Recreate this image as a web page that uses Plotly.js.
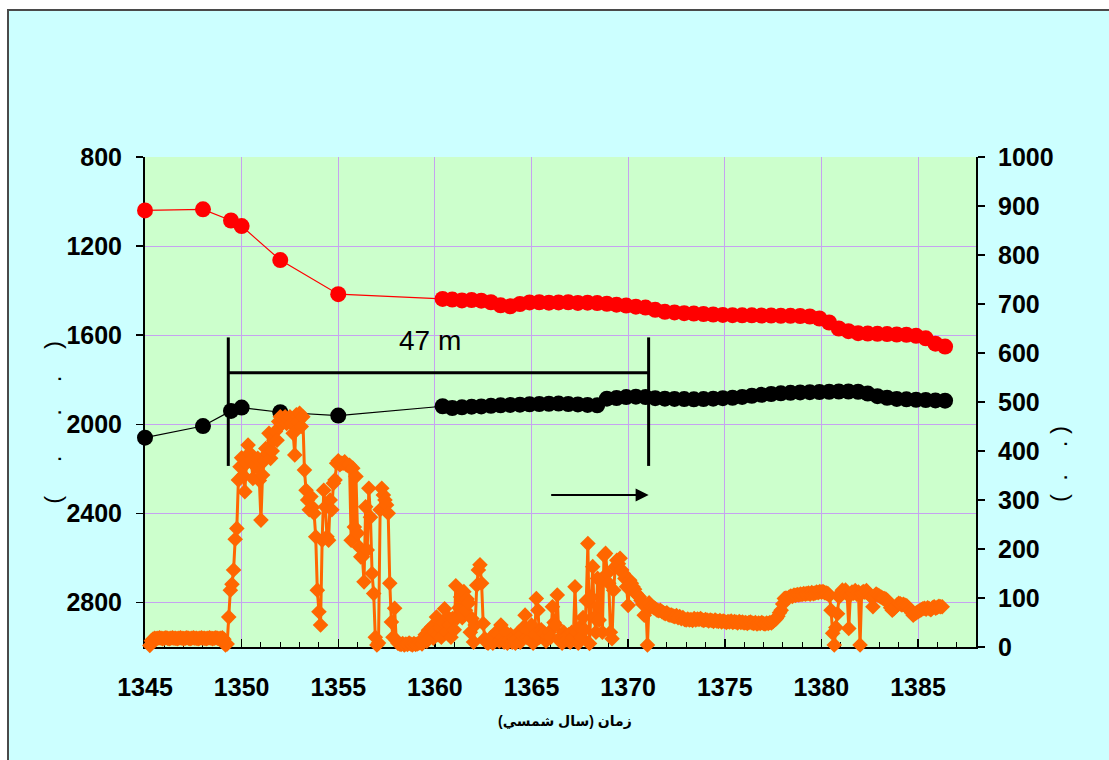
<!DOCTYPE html>
<html>
<head>
<meta charset="utf-8">
<script src="https://cdn.plot.ly/plotly-3.0.1.min.js"></script>
<style>
  html, body { margin: 0; padding: 0; background: #ffffff; }
  #frame {
    position: absolute; left: 7px; top: 9px;
    width: 1100px; height: 749px;
    border-left: 2px solid #4a4a4a; border-top: 2px solid #4a4a4a;
  }
  #chart { width: 1100px; height: 749px; }
</style>
</head>
<body>
<div id="frame"><div id="chart"></div></div>
<script>
// Observation-well years (solar hijri); early sparse readings, then half-yearly readings
const wellYears = [1345, 1348, 1349.45, 1350, 1352, 1355,
  1360.4, 1360.9, 1361.4, 1361.9, 1362.4, 1362.9, 1363.4, 1363.9, 1364.4, 1364.9,
  1365.4, 1365.9, 1366.4, 1366.9, 1367.4, 1367.9, 1368.4, 1368.9, 1369.4, 1369.9,
  1370.4, 1370.9, 1371.4, 1371.9, 1372.4, 1372.9, 1373.4, 1373.9, 1374.4, 1374.9,
  1375.4, 1375.9, 1376.4, 1376.9, 1377.4, 1377.9, 1378.4, 1378.9, 1379.4, 1379.9,
  1380.4, 1380.9, 1381.4, 1381.9, 1382.4, 1382.9, 1383.4, 1383.9, 1384.4, 1384.9,
  1385.4, 1385.9, 1386.4];

// Upper series (left axis, reversed)
const redLevel = [1040, 1035, 1085, 1110, 1263, 1416,
  1437, 1440, 1444, 1442, 1445, 1452, 1466, 1470, 1460, 1453,
  1452, 1454, 1453, 1452, 1455, 1454, 1456, 1459, 1463, 1467,
  1472, 1476, 1486, 1495, 1498, 1501, 1503, 1505, 1507, 1509,
  1510, 1511, 1511, 1512, 1512, 1513, 1513, 1514, 1516, 1525,
  1543, 1570, 1582, 1591, 1593, 1594, 1595, 1597, 1598, 1603,
  1614, 1638, 1651];

// Lower series (left axis, reversed)
const blackLevel = [2060, 2008, 1940, 1925, 1946, 1961,
  1919, 1927, 1924, 1921, 1920, 1917, 1915, 1913, 1912, 1910,
  1909, 1908, 1907, 1909, 1911, 1913, 1915, 1885, 1882, 1878,
  1876, 1878, 1883, 1885, 1886, 1887, 1888, 1887, 1885, 1883,
  1881, 1877, 1872, 1868, 1864, 1861, 1859, 1857, 1856, 1855,
  1854, 1853, 1853, 1854, 1862, 1874, 1881, 1886, 1888, 1890,
  1891, 1893, 1894];

// Monthly series on the right axis, first reading at 1345.25
const flowStart = 1345.25;
const flowMonthly = [
  3, 13, 16, 18, 17, 18, 19, 18, 17, 18, 19, 18,
  17, 18, 19, 18, 18, 17, 18, 19, 18, 17, 18, 19,
  18, 17, 18, 19, 18, 18, 17, 18, 19, 18, 18, 17,
  18, 19, 18, 17, 18, 19, 18, 17, 18, 19, 16, 4,
  6, 61, 116, 128, 157, 220, 242, 341, 368, 386, 350, 317,
  375, 412, 396, 380, 344, 371, 368, 385, 340, 259, 351, 380,
  405, 395, 436, 385, 400, 422, 440, 422, 460, 470, 455, 465,
  470, 456, 465, 470, 456, 436, 392, 474, 460, 477, 450, 470,
  361, 320, 300, 280, 307, 285, 273, 225, 116, 72, 45, 218,
  320, 286, 225, 218, 300, 280, 334, 341, 375, 380, 372, 375,
  375, 378, 372, 370, 371, 218, 365, 245, 348, 232, 204, 184,
  184, 133, 286, 198, 324, 265, 150, 109, 20, 4, 8, 280,
  324, 310, 300, 290, 273, 130, 51, 20, 79, 14, 8, 6,
  5, 7, 4, 6, 5, 8, 6, 4, 7, 5, 6, 8,
  10, 6, 15, 25, 12, 34, 20, 41, 18, 30, 61, 25,
  40, 20, 50, 78, 30, 61, 45, 20, 58, 35, 125, 60,
  80, 102, 60, 113, 75, 98, 90, 30, 58, 10, 45, 126,
  157, 168, 130, 48, 17, 10, 8, 12, 20, 8, 15, 30,
  25, 12, 45, 20, 10, 30, 8, 15, 25, 10, 20, 8,
  18, 30, 10, 25, 40, 65, 20, 35, 15, 45, 8, 25,
  99, 75, 20, 35, 30, 28, 12, 22, 30, 20, 82, 50,
  45, 106, 15, 20, 8, 30, 20, 15, 25, 10, 30, 20,
  123, 30, 8, 40, 20, 60, 35, 95, 211, 7, 102, 164,
  60, 30, 140, 55, 136, 30, 187, 191, 150, 130, 30, 17,
  116, 164, 177, 170, 181, 157, 150, 140, 123, 85, 136, 130,
  123, 118, 109, 105, 102, 95, 88, 65, 85, 4, 90, 82,
  82, 80, 78, 75, 74, 75, 72, 70, 68, 70, 66, 65,
  65, 63, 62, 64, 60, 62, 58, 60, 56, 55, 57, 55,
  56, 54, 58, 55, 57, 56, 58, 55, 54, 56, 55, 53,
  55, 54, 52, 55, 53, 52, 54, 51, 53, 52, 50, 52,
  51, 53, 50, 52, 51, 49, 52, 50, 51, 49, 50, 48,
  50, 51, 49, 48, 50, 47, 49, 48, 50, 48, 47, 49,
  48, 50, 49, 52, 55, 58, 63, 70, 75, 88, 99, 100,
  99, 102, 104, 103, 106, 105, 107, 106, 108, 107, 109, 108,
  109, 110, 108, 111, 109, 110, 112, 111, 113, 112, 113, 111,
  110, 109, 105, 75, 28, 4, 40, 68, 102, 110, 116, 112,
  116, 108, 38, 106, 112, 110, 115, 108, 112, 4, 110, 113,
  112, 115, 110, 106, 102, 82, 104, 108, 106, 104, 102, 100,
  99, 98, 95, 88, 80, 75, 78, 82, 86, 89, 88, 86,
  87, 85, 84, 80, 75, 70, 65, 68, 70, 72, 74, 76,
  78, 79, 77, 80, 78, 76, 80, 82, 79, 81, 83, 82,
  82
];
const flowYears = flowMonthly.map((_, i) => flowStart + i / 12);

// Tick labels
const leftTicks = [800, 1200, 1600, 2000, 2400, 2800];
const rightTicks = [0, 100, 200, 300, 400, 500, 600, 700, 800, 900, 1000];
const yearTicks = [1345, 1350, 1355, 1360, 1365, 1370, 1375, 1380, 1385];

// Texts
const xTitle = 'زمان (سال شمسي)';
const nb = '\u00a0';
const leftTitle = '(' + nb.repeat(5) + '.' + nb.repeat(6) + '.' + nb.repeat(4) + '.' + nb.repeat(4) + ')';
const rightTitle = '(' + nb.repeat(2) + '.' + nb.repeat(4) + '.' + nb.repeat(1) + ')';
const spanLabel = '47 m';

// Bracket marking the 47 m span
const bracketX = [1349.31, 1371.06];
const bracketY = 1769;
const bracketTop = 1610;
const bracketBottom = 2187;
const arrowFrom = 1365.94, arrowTo = 1371.06, arrowLevel = 2318;

const FONT = "Arial, 'Liberation Sans', 'DejaVu Sans', sans-serif";
const gridColor = '#c6a2f0';

const traces = [
  {
    x: wellYears, y: redLevel, type: 'scatter', mode: 'lines+markers',
    line: { color: '#ff0000', width: 1.2 },
    marker: { color: '#ff0000', size: 16, symbol: 'circle' },
    cliponaxis: false, xaxis: 'x', yaxis: 'y', hoverinfo: 'x+y'
  },
  {
    x: wellYears, y: blackLevel, type: 'scatter', mode: 'lines+markers',
    line: { color: '#000000', width: 1.2 },
    marker: { color: '#000000', size: 16, symbol: 'circle' },
    cliponaxis: false, xaxis: 'x', yaxis: 'y', hoverinfo: 'x+y'
  },
  {
    x: flowYears, y: flowMonthly, type: 'scatter', mode: 'lines+markers',
    line: { color: '#ff6600', width: 3 },
    marker: { color: '#ff6600', size: 12, symbol: 'diamond' },
    cliponaxis: false, xaxis: 'x', yaxis: 'y2', hoverinfo: 'x+y'
  }
];

const tickFont = { family: FONT, size: 25, color: '#000', weight: 'bold' };

const layout = {
  width: 1100, height: 749,
  margin: { l: 136, r: 133, t: 146, b: 113 },
  paper_bgcolor: '#ccffff',
  plot_bgcolor: '#ccffcc',
  showlegend: false,
  xaxis: {
    range: [1345, 1388], autorange: false,
    tickmode: 'array', tickvals: yearTicks, ticktext: yearTicks.map(String),
    ticks: 'inside', ticklen: 8, tickwidth: 1.5, tickcolor: '#000',
    minor: { dtick: 1, tick0: 1345, ticks: 'inside', ticklen: 5, tickwidth: 1, tickcolor: '#000', showgrid: false },
    showgrid: true, gridcolor: gridColor, gridwidth: 1,
    showline: true, linecolor: '#000', linewidth: 2,
    zeroline: false, tickfont: tickFont, ticklabelstandoff: 17,
    layer: 'below traces'
  },
  yaxis: {
    range: [3000, 800], autorange: false,
    tickmode: 'array', tickvals: leftTicks, ticktext: leftTicks.map(String),
    ticks: 'outside', ticklen: 7, tickwidth: 1.5, tickcolor: '#000',
    showgrid: true, gridcolor: gridColor, gridwidth: 1,
    showline: true, linecolor: '#000', linewidth: 2,
    zeroline: false, tickfont: tickFont, ticklabelstandoff: 9,
    layer: 'below traces'
  },
  yaxis2: {
    range: [0, 1000], autorange: false, overlaying: 'y', side: 'right',
    tickmode: 'array', tickvals: rightTicks, ticktext: rightTicks.map(String),
    ticks: 'outside', ticklen: 7, tickwidth: 1.5, tickcolor: '#000',
    showgrid: false, showline: true, linecolor: '#000', linewidth: 2,
    zeroline: false, tickfont: tickFont, ticklabelstandoff: 8,
    layer: 'below traces'
  },
  shapes: [
    { type: 'line', xref: 'x', yref: 'y', x0: bracketX[0], x1: bracketX[1], y0: bracketY, y1: bracketY,
      line: { color: '#000', width: 3 } },
    { type: 'line', xref: 'x', yref: 'y', x0: bracketX[0], x1: bracketX[0], y0: bracketTop, y1: bracketBottom,
      line: { color: '#000', width: 3 } },
    { type: 'line', xref: 'x', yref: 'y', x0: bracketX[1], x1: bracketX[1], y0: bracketTop, y1: bracketBottom,
      line: { color: '#000', width: 3 } }
  ],
  annotations: [
    { text: spanLabel, xref: 'x', yref: 'y', x: 1359.74, y: 1625, showarrow: false,
      font: { family: FONT, size: 28, color: '#000' }, xanchor: 'center', yanchor: 'middle' },
    { text: '', xref: 'x', yref: 'y', x: arrowTo, y: arrowLevel, axref: 'x', ayref: 'y',
      ax: arrowFrom, ay: arrowLevel, showarrow: true, arrowhead: 2, arrowsize: 1.3,
      arrowwidth: 2, arrowcolor: '#000' },
    { text: xTitle, xref: 'paper', yref: 'paper', x: 0.5054, y: -0.153, showarrow: false,
      font: { family: FONT, size: 14, color: '#000', weight: 'bold' }, xanchor: 'center', yanchor: 'middle' },
    { text: leftTitle, xref: 'paper', yref: 'paper', x: -0.1107, y: 0.4578, showarrow: false,
      textangle: -90, font: { family: FONT, size: 24, color: '#000' }, xanchor: 'center', yanchor: 'middle' },
    { text: rightTitle, xref: 'paper', yref: 'paper', x: 1.0999, y: 0.3735, showarrow: false,
      textangle: -90, font: { family: FONT, size: 24, color: '#000' }, xanchor: 'center', yanchor: 'middle' }
  ]
};

Plotly.newPlot('chart', traces, layout, { staticPlot: true, displayModeBar: false });
</script>
</body>
</html>
